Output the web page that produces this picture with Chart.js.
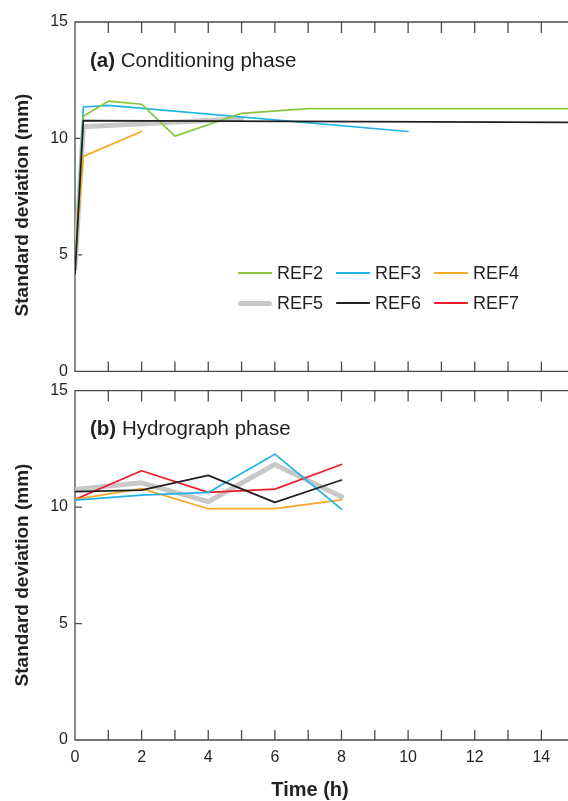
<!DOCTYPE html>
<html>
<head>
<meta charset="utf-8">
<script src="https://cdn.jsdelivr.net/npm/chart.js@4"></script>
<style>
  body { margin: 0; background: #fff; width: 568px; height: 801px; overflow: hidden; position: relative;
         font-family: "Liberation Sans", Arial, sans-serif; color: #231f20; }
  .wrap { position: absolute; left: 0; width: 568px; }
  #wrapA { top: 0; height: 388px; }
  #wrapB { top: 374px; height: 427px; }
  .tag { position: absolute; left: 90px; font-size: 20.5px; line-height: 24px; white-space: nowrap; }
  .tag b { font-weight: bold; }
  .xtitle { position: absolute; left: 230px; width: 160px; top: 777px; text-align: center;
            font-size: 20px; line-height: 24px; font-weight: bold; }
  .ytitle { position: absolute; width: 300px; height: 24px; line-height: 24px; text-align: center;
            font-size: 19px; font-weight: bold; white-space: nowrap; transform: rotate(-90deg); }
  .leg { position: absolute; font-size: 18px; line-height: 20px; white-space: nowrap; }
  .leg span.s { position: absolute; left: 0; display: block; }
  .leg span.t { position: absolute; left: 39px; top: -10px; }
</style>
</head>
<body>
<div class="wrap" id="wrapA"><canvas id="chartA" width="568" height="388"></canvas></div>
<div class="wrap" id="wrapB"><canvas id="chartB" width="568" height="427"></canvas></div>
<div class="tag" style="top:48px"><b>(a)</b> Conditioning phase</div>
<div class="tag" style="top:416px"><b>(b)</b> Hydrograph phase</div>
<div class="ytitle" style="left:-128px; top:193px">Standard deviation (mm)</div>
<div class="ytitle" style="left:-128px; top:563px">Standard deviation (mm)</div>
<div class="xtitle">Time (h)</div>
<div id="legend"></div>

<script>
// nama seri dan warna
const seriesNames = ['REF2', 'REF3', 'REF4', 'REF5', 'REF6', 'REF7'];
const seriesColors = ['#8cc63f', '#1fb4e6', '#f7a823', '#c8c8c8', '#231f20', '#ec1c2b'];
const seriesWidths = [1.7, 1.7, 1.7, 5, 1.7, 1.7];

// (a) Conditioning phase - waktu (h) dan standar deviasi (mm)
const timeA_REF2 = [0, 0.25, 1, 2, 3, 5, 7, 15];
const valA_REF2 = [4.3, 10.95, 11.6, 11.47, 10.1, 11.08, 11.28, 11.28];
const timeA_REF3 = [0, 0.25, 1, 10];
const valA_REF3 = [4.3, 11.35, 11.42, 10.3];
const timeA_REF4 = [0, 0.25, 2];
const valA_REF4 = [4.6, 9.23, 10.3];
const timeA_REF5 = [0, 0.25, 5];
const valA_REF5 = [4.4, 10.5, 10.85];
const timeA_REF6 = [0, 0.25, 15];
const valA_REF6 = [4.2, 10.77, 10.69];

// (b) Hydrograph phase
const timeB = [0, 2, 4, 6, 8];
const valB_REF3 = [10.3, 10.51, 10.63, 12.27, 9.91];
const valB_REF4 = [10.33, 10.79, 9.93, 9.93, 10.31];
const valB_REF5 = [10.75, 11.04, 10.23, 11.83, 10.44];
const valB_REF6 = [10.66, 10.73, 11.36, 10.2, 11.16];
const valB_REF7 = [10.33, 11.56, 10.63, 10.77, 11.83];

const yTicks = [0, 5, 10, 15];
const xMax = 14.8;
const frameColor = '#4a4a4a';
const fontFamily = '"Liberation Sans", Arial, sans-serif';

function pts(xs, ys) {
    return xs.map((x, i) => ({ x: x, y: ys[i] }));
}

function ds(idx, xs, ys) {
    return {
        label: seriesNames[idx],
        data: pts(xs, ys),
        borderColor: seriesColors[idx],
        borderWidth: seriesWidths[idx],
        order: idx === 3 ? 10 : (idx === 4 ? 0 : 5),
        borderCapStyle: 'round',
        borderJoinStyle: 'round'
    };
}

// Plugin untuk bingkai dan tick ke dalam
const framePlugin = {
    id: 'frame',
    beforeDatasetsDraw(chart) {
        const { ctx, chartArea: a, scales: { x, y } } = chart;
        ctx.save();
        ctx.strokeStyle = frameColor;
        ctx.lineWidth = 1.3;
        ctx.beginPath();
        ctx.moveTo(a.right + 5, a.top);
        ctx.lineTo(a.left, a.top);
        ctx.lineTo(a.left, a.bottom);
        ctx.lineTo(a.right + 5, a.bottom);
        for (let v = 1; v <= Math.floor(x.max); v++) {
            const px = x.getPixelForValue(v);
            ctx.moveTo(px, a.top);
            ctx.lineTo(px, a.top + 11);
            ctx.moveTo(px, a.bottom);
            ctx.lineTo(px, a.bottom - 10);
        }
        yTicks.forEach(v => {
            const py = y.getPixelForValue(v);
            ctx.moveTo(a.left, py);
            ctx.lineTo(a.left + 7, py);
        });
        ctx.stroke();
        ctx.restore();
    }
};

function makeChart(id, datasets, topPad, bottomH, showX) {
    return new Chart(document.getElementById(id), {
        type: 'line',
        data: { datasets: datasets },
        options: {
            responsive: false,
            animation: false,
            layout: { padding: { top: topPad, right: 0, left: 0, bottom: 0 } },
            plugins: { legend: { display: false }, tooltip: { enabled: false } },
            elements: { point: { radius: 0 }, line: { tension: 0 } },
            scales: {
                x: {
                    type: 'linear', min: 0, max: xMax,
                    grid: { display: false, drawTicks: false },
                    border: { display: false },
                    ticks: {
                        display: showX, stepSize: 1, includeBounds: false, autoSkip: false, maxRotation: 0,
                        padding: 8, color: '#231f20', font: { family: fontFamily, size: 16 },
                        callback: v => (v % 2 === 0 ? v : '')
                    },
                    afterFit: s => { s.height = bottomH; }
                },
                y: {
                    min: 0, max: 15,
                    grid: { display: false, drawTicks: false },
                    border: { display: false },
                    ticks: { stepSize: 5, padding: 7, color: '#231f20', font: { family: fontFamily, size: 16 } },
                    afterFit: s => { s.width = 75; }
                }
            }
        },
        plugins: [framePlugin]
    });
}

makeChart('chartA', [
    ds(0, timeA_REF2, valA_REF2),
    ds(1, timeA_REF3, valA_REF3),
    ds(2, timeA_REF4, valA_REF4),
    ds(3, timeA_REF5, valA_REF5),
    ds(4, timeA_REF6, valA_REF6)
], 22, 14, false);

makeChart('chartB', [
    ds(1, timeB, valB_REF3),
    ds(2, timeB, valB_REF4),
    ds(3, timeB, valB_REF5),
    ds(4, timeB, valB_REF6),
    ds(5, timeB, valB_REF7)
], 4, 61, true);

// Legenda manual di panel (a)
const legendX = [238, 336, 434];
const legendY = [273, 303];
const legend = document.getElementById('legend');
seriesNames.forEach((name, i) => {
    const item = document.createElement('div');
    item.className = 'leg';
    item.style.left = legendX[i % 3] + 'px';
    item.style.top = legendY[Math.floor(i / 3)] + 'px';
    const w = seriesWidths[i];
    item.innerHTML = '<span class="s" style="width:34px;height:' + w + 'px;top:' + (-w / 2) +
        'px;background:' + seriesColors[i] + ';border-radius:' + (w / 2) + 'px"></span>' +
        '<span class="t">' + name + '</span>';
    legend.appendChild(item);
});
</script>
</body>
</html>
